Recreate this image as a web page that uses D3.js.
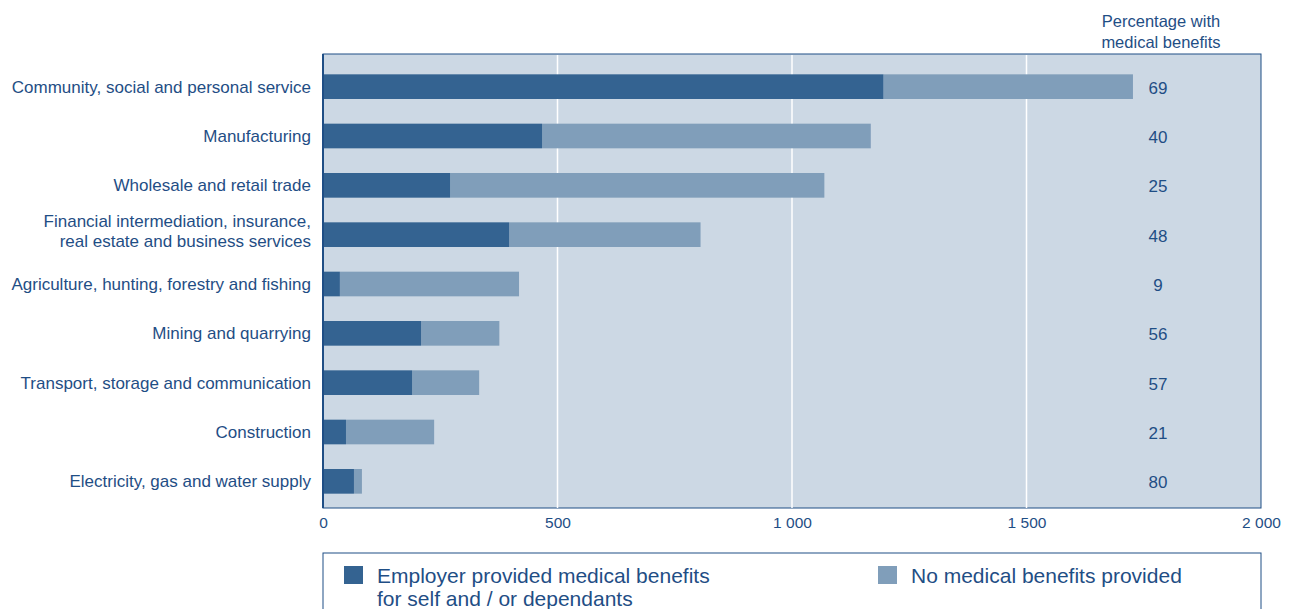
<!DOCTYPE html>
<html>
<head>
<meta charset="utf-8">
<script src="https://cdnjs.cloudflare.com/ajax/libs/d3/7.8.5/d3.min.js"></script>
<style>
  body { margin: 0; background: #fff; }
  text { font-family: "Liberation Sans", Arial, sans-serif; fill: #1f4e85; }
</style>
</head>
<body>
<div id="chart"></div>
<script>
var categories = [
  "Community, social and personal service",
  "Manufacturing",
  "Wholesale and retail trade",
  "Financial intermediation, insurance,|real estate and business services",
  "Agriculture, hunting, forestry and fishing",
  "Mining and quarrying",
  "Transport, storage and communication",
  "Construction",
  "Electricity, gas and water supply"
];
var employerProvided = [1195, 467, 271, 397, 36, 209, 190, 49, 66];
var noBenefits = [532, 701, 798, 408, 382, 167, 143, 188, 17];
var percentWith = [69, 40, 25, 48, 9, 56, 57, 21, 80];
var xTicks = [0, 500, 1000, 1500, 2000];
var legendLabels = ["Employer provided medical benefits|for self and / or dependants", "No medical benefits provided"];

var darkBlue = "#346391", lightBlue = "#809eba", plotBg = "#ccd8e4", ink = "#1f4e85";

var svgWidth = 1289, svgHeight = 609;
var svg = d3.select("#chart").append("svg")
  .attr("width", svgWidth)
  .attr("height", svgHeight);

var plotLeft = 323, plotRight = 1261, plotTop = 54, plotBottom = 508;

var x = d3.scaleLinear().domain([0, 2000]).range([plotLeft, plotRight]);
var y = d3.scaleBand().domain(categories).range([62, 506]).paddingInner(0.5).paddingOuter(0.25);

// plot background
svg.append("rect")
  .attr("x", plotLeft).attr("y", plotTop)
  .attr("width", plotRight - plotLeft).attr("height", plotBottom - plotTop)
  .attr("fill", plotBg)
  .attr("stroke", ink).attr("stroke-width", 1);

// gridlines
svg.append("g").selectAll("line")
  .data(xTicks.filter(function(d) { return d > 0 && d < 2000; }))
  .enter().append("line")
  .attr("x1", function(d) { return x(d); })
  .attr("x2", function(d) { return x(d); })
  .attr("y1", plotTop + 1).attr("y2", plotBottom)
  .attr("stroke", "#fff").attr("stroke-width", 1.5);

var rows = categories.map(function(c, i) {
  return { cat: c, a: employerProvided[i], b: noBenefits[i], pct: percentWith[i] };
});

// bars
svg.append("g").selectAll("rect")
  .data(rows).enter().append("rect")
  .attr("x", function(d) { return x(d.a); })
  .attr("y", function(d) { return y(d.cat); })
  .attr("width", function(d) { return x(d.a + d.b) - x(d.a); })
  .attr("height", y.bandwidth())
  .attr("fill", lightBlue);

svg.append("g").selectAll("rect")
  .data(rows).enter().append("rect")
  .attr("x", x(0))
  .attr("y", function(d) { return y(d.cat); })
  .attr("width", function(d) { return x(d.a) - x(0); })
  .attr("height", y.bandwidth())
  .attr("fill", darkBlue);

// left axis line
svg.append("line")
  .attr("x1", plotLeft).attr("x2", plotLeft)
  .attr("y1", plotTop).attr("y2", plotBottom)
  .attr("stroke", ink).attr("stroke-width", 2);

// category labels
var catLabels = svg.append("g").selectAll("text")
  .data(rows).enter().append("text")
  .attr("text-anchor", "end")
  .attr("font-size", 17)
  .attr("x", 311)
  .attr("y", function(d) { return y(d.cat) + y.bandwidth() / 2; });
catLabels.each(function(d) {
  var lines = d.cat.split("|");
  var t = d3.select(this);
  lines.forEach(function(l, j) {
    t.append("tspan")
      .attr("x", 311)
      .attr("dy", j === 0 ? (lines.length === 1 ? 6 : -8) : 20)
      .text(l);
  });
});

// percentage labels
svg.append("g").selectAll("text")
  .data(rows).enter().append("text")
  .attr("text-anchor", "middle")
  .attr("font-size", 17)
  .attr("x", 1158)
  .attr("y", function(d) { return y(d.cat) + y.bandwidth() / 2 + 7; })
  .text(function(d) { return d.pct; });

svg.append("text")
  .attr("text-anchor", "middle").attr("font-size", 16.5)
  .attr("x", 1161).attr("y", 27).text("Percentage with");
svg.append("text")
  .attr("text-anchor", "middle").attr("font-size", 16.5)
  .attr("x", 1161).attr("y", 48).text("medical benefits");

// x axis
var fmt = function(d) { return d3.format(",")(d).replace(/,/g, " "); };
var xAxis = svg.append("g")
  .attr("transform", "translate(0," + plotBottom + ")")
  .call(d3.axisBottom(x).tickValues(xTicks).tickSize(0).tickPadding(9).tickFormat(fmt));
xAxis.select(".domain").remove();
xAxis.selectAll("text")
  .attr("font-size", 15.5)
  .attr("font-family", "Liberation Sans, Arial, sans-serif")
  .attr("fill", ink);

// legend
svg.append("rect")
  .attr("x", plotLeft).attr("y", 553)
  .attr("width", plotRight - plotLeft).attr("height", 80)
  .attr("fill", "#fff").attr("stroke", ink).attr("stroke-width", 1);

var legendX = [344, 878];
var legendColors = [darkBlue, lightBlue];
legendLabels.forEach(function(lbl, i) {
  svg.append("rect")
    .attr("x", legendX[i]).attr("y", 566)
    .attr("width", 19).attr("height", 18)
    .attr("fill", legendColors[i]);
  var t = svg.append("text")
    .attr("font-size", 21)
    .attr("x", legendX[i] + 33).attr("y", 583);
  lbl.split("|").forEach(function(l, j) {
    t.append("tspan").attr("x", legendX[i] + 33).attr("dy", j === 0 ? 0 : 23).text(l);
  });
});
</script>
</body>
</html>
